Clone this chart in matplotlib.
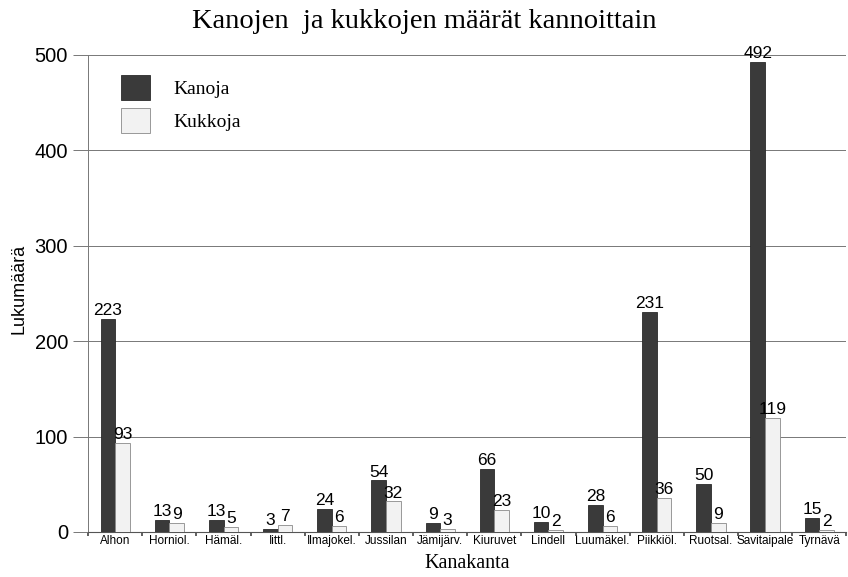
import matplotlib.pyplot as plt
import numpy as np

# data
categories = ['Alhon', 'Horniol.', 'Hämäl.', 'Iittl.', 'Ilmajokel.', 'Jussilan',
              'Jämijärv.', 'Kiuruvet', 'Lindell', 'Luumäkel.', 'Piikkiöl.',
              'Ruotsal.', 'Savitaipale', 'Tyrnävä']
kanoja = [223, 13, 13, 3, 24, 54, 9, 66, 10, 28, 231, 50, 492, 15]
kukkoja = [93, 9, 5, 7, 6, 32, 3, 23, 2, 6, 36, 9, 119, 2]

fig = plt.figure(figsize=(8.48, 5.77), dpi=100)
ax = fig.add_axes([0.104, 0.078, 0.894, 0.827])

x = np.arange(len(categories))
w = 0.27
b1 = ax.bar(x - w/2, kanoja, width=w, color='#3a3a3a', edgecolor='#2a2a2a',
            linewidth=0.6, label='Kanoja', zorder=3)
b2 = ax.bar(x + w/2, kukkoja, width=w, color='#f2f2f2', edgecolor='#8a8a8a',
            linewidth=0.6, label='Kukkoja', zorder=3)

for bars, vals in ((b1, kanoja), (b2, kukkoja)):
    for r, v in zip(bars, vals):
        ax.text(r.get_x() + r.get_width()/2, v + 1, str(v), ha='center',
                va='bottom', fontsize=12.5, family='Liberation Sans', zorder=4)

ax.set_xlim(-0.5, len(categories) - 0.5)
ax.set_ylim(0, 500)
ax.set_yticks([0, 100, 200, 300, 400, 500])
ax.yaxis.grid(True, color='#777777', linewidth=0.7, zorder=0)
ax.tick_params(axis='y', length=11, width=0.7, color='#777777', labelsize=14.5)
for lbl in ax.get_yticklabels():
    lbl.set_family('Liberation Sans')

ax.set_xticks(x)
ax.set_xticklabels(categories, fontsize=8.5, family='Liberation Sans')
ax.set_xticks(np.arange(-0.5, len(categories)), minor=True)
ax.tick_params(axis='x', which='major', length=0, pad=2)
ax.tick_params(axis='x', which='minor', length=3, width=1.2, color='#444444')

for s in ('top', 'right'):
    ax.spines[s].set_visible(False)
ax.spines['left'].set_color('#777777')
ax.spines['left'].set_linewidth(0.7)
ax.spines['bottom'].set_color('#555555')
ax.spines['bottom'].set_linewidth(0.8)

fig.text(0.5, 0.952, 'Kanojen  ja kukkojen määrät kannoittain', ha='center',
         fontsize=20.5, family='Liberation Serif')
ax.set_xlabel('Kanakanta', fontsize=14.5, family='Liberation Serif', labelpad=5)
fig.text(0.012, 0.5, 'Lukumäärä', rotation=90, va='center', fontsize=13,
         family='Liberation Sans')

ax.legend(loc='upper left', bbox_to_anchor=(0.02, 0.995), frameon=False,
          prop={'family': 'Liberation Serif', 'size': 14},
          handlelength=1.5, handleheight=1.6, handletextpad=1.2, labelspacing=0.45)

fig.savefig('out.png', dpi=100)
